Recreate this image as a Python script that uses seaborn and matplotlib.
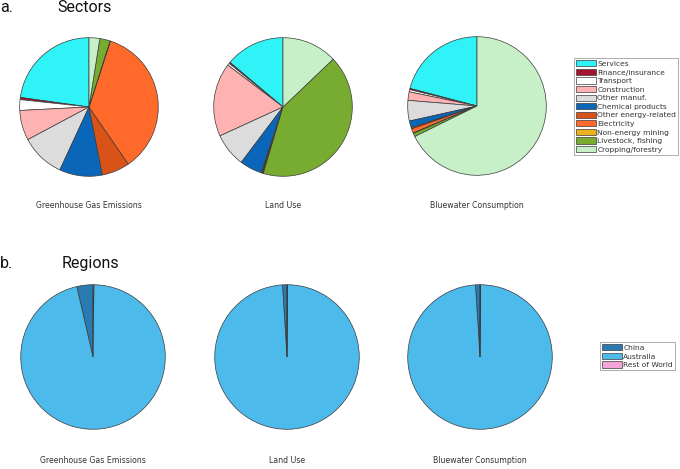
import matplotlib
matplotlib.use("Agg")
import matplotlib.pyplot as plt
from matplotlib.patches import Patch
import seaborn as sns

sns.set_theme(style="white")
plt.rcParams['font.family'] = ['DejaVu Sans']

# ---- data ----
sectors = ["Services", "Finance/insurance", "Transport", "Construction", "Other manuf.",
           "Chemical products", "Other energy-related", "Electricity", "Non-energy mining",
           "Livestock, fishing", "Cropping/forestry"]
sector_colors = ["#2ff3f6", "#a3122e", "#ffffff", "#ffb2b2", "#dcdcdc",
                 "#0a66b8", "#d95319", "#ff6a2a", "#edb120", "#77ac30", "#c8f0c8"]
ghg_sector = [22.8, 0.5, 2.5, 7.0, 10.3, 10.0, 6.5, 35.4, 0.1, 2.4, 2.5]
land_sector = [13.9, 0.3, 0.5, 17.2, 7.9, 5.2, 0.2, 0.2, 0.1, 41.8, 12.9]
water_sector = [21.0, 0.3, 0.5, 2.0, 4.8, 1.6, 0.3, 1.0, 0.1, 0.8, 68.0]

regions = ["China", "Australia", "Rest of World"]
region_colors = ["#2a7bb2", "#4dbaec", "#f4a6d9"]
ghg_region = [3.6, 96.2, 0.2]
land_region = [1.0, 98.9, 0.1]
water_region = [1.0, 98.9, 0.1]

titles = ["Greenhouse Gas Emissions", "Land Use", "Bluewater Consumption"]

W, H = 680, 469
fig = plt.figure(figsize=(W / 100, H / 100), dpi=100)
fig.patch.set_facecolor("white")


def px_axes(cx, cy, r):
    return fig.add_axes([(cx - r) / W, (H - cy - r) / H, 2 * r / W, 2 * r / H])


def draw_pie(cx, cy, r, vals, cols, title, ty):
    ax = px_axes(cx, cy, r)
    ax.pie(vals, colors=cols, startangle=90, counterclock=True,
           wedgeprops=dict(edgecolor="#3a3a3a", linewidth=0.5))
    ax.set_xlim(-1.01, 1.01)
    ax.set_ylim(-1.01, 1.01)
    ax.set_aspect("equal")
    ax.axis("off")
    fig.text(cx / W, 1 - ty / H, title, ha="center", va="center",
             fontsize=5.6, color="#333333")


top_c = [(89, 107), (283, 107), (477, 106)]
for (cx, cy), vals, t in zip(top_c, [ghg_sector, land_sector, water_sector], titles):
    draw_pie(cx, cy, 70, vals, sector_colors, t, 205)

bot_c = [(93, 357), (287, 357), (480, 357)]
for (cx, cy), vals, t in zip(bot_c, [ghg_region, land_region, water_region], titles):
    draw_pie(cx, cy, 73, vals, region_colors, t, 460)

# headers
hdr = dict(fontsize=11.5, va="baseline", ha="left", color="#111111", family=["Roboto", "DejaVu Sans"])
fig.text(0 / W, 1 - 12 / H, "a.", **hdr)
fig.text(57 / W, 1 - 12 / H, "Sectors", **hdr)
fig.text(0 / W, 1 - 268 / H, "b.", **hdr)
fig.text(62 / W, 1 - 268 / H, "Regions", **hdr)

# legends
legkw = dict(loc="upper left", fontsize=5.4, frameon=True, fancybox=False, edgecolor="#888888",
             handlelength=2.6, handleheight=0.9, handletextpad=0.2,
             labelspacing=0.25, borderpad=0.3, borderaxespad=0)
h1 = [Patch(facecolor=c, edgecolor="#3a3a3a", linewidth=0.5, label=l)
      for l, c in zip(sectors, sector_colors)]
leg1 = fig.legend(handles=h1, bbox_to_anchor=(574 / W, 1 - 58 / H), **legkw)
leg1.get_frame().set_linewidth(0.6)
for t in leg1.get_texts():
    t.set_color("#333333")

h2 = [Patch(facecolor=c, edgecolor="#3a3a3a", linewidth=0.5, label=l)
      for l, c in zip(regions, region_colors)]
leg2 = fig.legend(handles=h2, bbox_to_anchor=(600 / W, 1 - 342 / H), **legkw)
leg2.get_frame().set_linewidth(0.6)
for t in leg2.get_texts():
    t.set_color("#333333")

fig.savefig("out.png", dpi=100, facecolor="white")
